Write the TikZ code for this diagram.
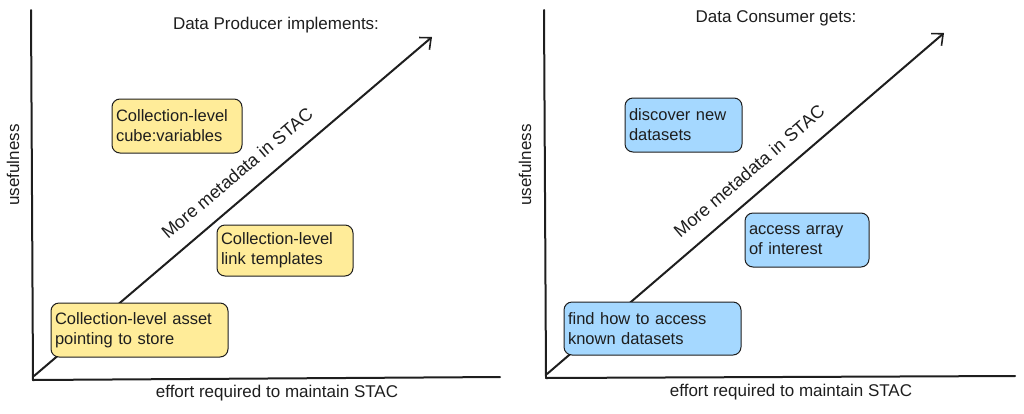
\documentclass[tikz,border=0pt]{standalone}
\usepackage{fontspec}
\setmainfont{Liberation Sans}
\usetikzlibrary{arrows.meta}
\definecolor{ink}{HTML}{1E1E1E}
\definecolor{yel}{HTML}{FFEC99}
\definecolor{blu}{HTML}{A5D8FF}
\tikzset{
  axis/.style={draw=ink, line width=2pt, line cap=round},
  growth/.style={draw=ink, line width=2pt, line cap=round, -{Straight Barb[length=9pt,width=16pt,line width=1.6pt]}},
  lbl/.style={text=ink, font=\fontsize{17}{19}\selectfont, inner sep=0pt},
  metalbl/.style={text=ink, font=\fontsize{18}{20}\selectfont, inner sep=0pt},
  card/.style={draw=ink, line width=1pt, rounded corners=8pt, align=left, inner sep=4pt,
    font=\fontsize{16.5}{20}\selectfont, text=ink},
  ycard/.style={card, fill=yel},
  bcard/.style={card, fill=blu},
}
\begin{document}
\begin{tikzpicture}[x=1pt,y=-1pt]
\useasboundingbox (0,0) rectangle (1024,413);
% ---- left panel ----
\coordinate (lo) at (33,380);
\coordinate (ltop) at (31,10);
\coordinate (lright) at (500,377);
\coordinate (lstart) at (34,376);
\coordinate (ltip) at (432,37);
\draw[axis] (lo) -- (ltop);
\draw[axis] (lo) -- (lright);
\draw[growth] (lstart) -- (ltip);
\node[lbl] (ltitle) at (276,25) {Data Producer implements:};
\node[lbl, rotate=90] (lyl) at (13,165) {usefulness};
\node[lbl] (lxl) at (277,393) {effort required to maintain STAC};
\node[metalbl, rotate=40.3] (lmeta) at (237,173) {More metadata in STAC};
\node[ycard, minimum width=130pt, minimum height=54pt, text width=122pt] (p1) at (177,126) {Collection-level\\cube:variables};
\node[ycard, minimum width=136pt, minimum height=51pt, text width=128pt] (p2) at (285,250.5) {Collection-level\\link templates};
\node[ycard, minimum width=177pt, minimum height=54pt, text width=169pt] (p3) at (139.5,330) {Collection-level asset\\pointing to store};
% ---- right panel ----
\coordinate (ro) at (546,378);
\coordinate (rtop) at (544,10);
\coordinate (rright) at (1015,376);
\coordinate (rstart) at (547,374);
\coordinate (rtip) at (944,33);
\draw[axis] (ro) -- (rtop);
\draw[axis] (ro) -- (rright);
\draw[growth] (rstart) -- (rtip);
\node[lbl] (rtitle) at (776,18) {Data Consumer gets:};
\node[lbl, rotate=90] (ryl) at (525,165) {usefulness};
\node[lbl] (rxl) at (791,392) {effort required to maintain STAC};
\node[metalbl, rotate=40.6] (rmeta) at (749,171) {More metadata in STAC};
\node[bcard, minimum width=117pt, minimum height=54pt, text width=109pt] (c1) at (683.5,125) {discover new\\datasets};
\node[bcard, minimum width=124pt, minimum height=54pt, text width=116pt] (c2) at (807,240) {access array\\of interest};
\node[bcard, minimum width=177pt, minimum height=53pt, text width=169pt] (c3) at (652.5,328.5) {find how to access\\known datasets};
\end{tikzpicture}
\end{document}
